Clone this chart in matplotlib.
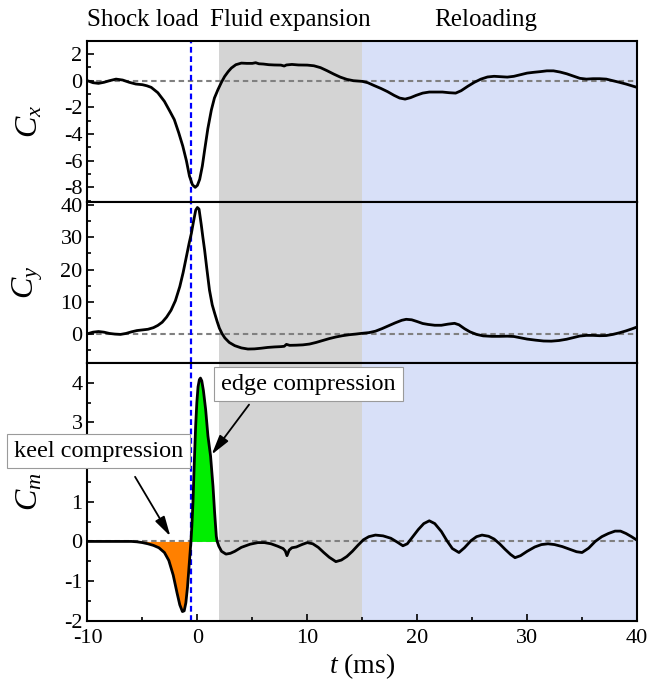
import numpy as np
import matplotlib
matplotlib.use("Agg")
import matplotlib.pyplot as plt
from matplotlib.ticker import MultipleLocator

# ---- data -------------------------------------------------------------
t_cx = [-10.0, -9.5, -9.0, -8.5, -8.0, -7.4, -6.8, -6.2, -5.6, -5.0, -4.6, -4.2,
        -3.6, -3.0, -2.5, -2.1, -1.7, -1.33, -1.0, -0.72, -0.45, -0.2, 0.0, 0.21,
        0.45, 0.66, 0.95, 1.27, 1.55, 1.87, 2.2, 2.48, 2.8, 3.09, 3.5, 4.0, 4.5,
        5.0, 5.3, 5.6, 6.0, 6.5, 7.0, 7.6, 7.9, 8.1, 8.6, 9.2, 10.0, 10.6, 11.2,
        11.8, 12.4, 13.0, 13.6, 14.2, 15.0, 15.5, 16.1, 16.7, 17.3, 17.9, 18.4,
        18.9, 19.4, 19.9, 20.5, 21.1, 21.7, 22.3, 22.9, 23.5, 24.0, 24.6, 25.2,
        25.8, 26.4, 27.0, 27.6, 28.2, 28.8, 29.4, 30.0, 30.6, 31.2, 31.8, 32.4,
        33.0, 33.6, 34.2, 34.8, 35.4, 36.0, 36.6, 37.2, 37.8, 38.4, 39.0, 39.6, 40.0]
cx = [0.0, -0.15, -0.2, -0.12, 0.0, 0.12, 0.05, -0.12, -0.25, -0.3, -0.38, -0.5,
      -0.9, -1.55, -2.3, -2.92, -3.9, -4.9, -6.0, -7.16, -7.8, -8.0, -7.85, -7.4,
      -6.4, -5.2, -3.6, -2.2, -1.3, -0.67, -0.1, 0.32, 0.68, 0.95, 1.2, 1.32, 1.3,
      1.3, 1.35, 1.27, 1.25, 1.2, 1.18, 1.17, 1.1, 1.18, 1.22, 1.18, 1.17, 1.12, 0.98,
      0.75, 0.5, 0.27, 0.1, 0.0, -0.05, -0.15, -0.37, -0.58, -0.82, -1.1, -1.3,
      -1.38, -1.27, -1.1, -0.93, -0.85, -0.85, -0.85, -0.9, -0.93, -0.75, -0.42, -0.12,
      0.12, 0.28, 0.33, 0.3, 0.27, 0.33, 0.45, 0.57, 0.63, 0.68, 0.74, 0.74,
      0.65, 0.52, 0.35, 0.18, 0.12, 0.15, 0.15, 0.12, 0.0, -0.12, -0.25, -0.4, -0.5]

t_cy = [-10.0, -9.5, -9.0, -8.5, -8.0, -7.5, -7.0, -6.5, -6.0, -5.5, -5.0, -4.5,
        -4.0, -3.6, -3.2, -2.8, -2.4, -2.0, -1.6, -1.3, -1.0, -0.75, -0.55, -0.35,
        -0.15, 0.0, 0.15, 0.35, 0.5, 0.66, 0.85, 1.1, 1.35, 1.57, 1.8, 2.0, 2.25,
        2.5, 2.9, 3.4, 4.0, 4.6, 5.2, 5.8, 6.4, 7.0, 7.6, 7.9, 8.1, 8.4, 9.0, 9.6,
        10.2, 10.8, 11.4, 12.0, 12.6, 13.2, 13.8, 14.4, 15.0, 15.6, 16.2, 16.8,
        17.4, 18.0, 18.6, 19.0, 19.5, 20.0, 20.5, 21.0, 21.6, 22.2, 22.8, 23.4,
        23.8, 24.3, 24.8, 25.4, 26.0, 26.8, 27.5, 28.2, 28.8, 29.4, 30.0, 30.8,
        31.5, 32.2, 32.9, 33.6, 34.2, 34.8, 35.4, 36.0, 36.6, 37.2, 37.8, 38.4,
        39.0, 39.6, 40.0]
cy = [0.0, 0.5, 0.7, 0.5, 0.1, -0.1, -0.2, 0.1, 0.6, 1.0, 1.2, 1.4,
      1.9, 2.6, 3.6, 5.2, 7.3, 10.3, 14.7, 19.0, 24.0, 28.2, 31.2, 35.0,
      38.5, 39.3, 38.8, 34.0, 30.0, 26.0, 20.5, 13.6, 9.0, 6.4, 3.8, 1.75, 0.0,
      -1.3, -2.7, -3.7, -4.4, -4.75, -4.7, -4.5, -4.25, -4.1, -4.0, -3.9, -3.3, -3.6, -3.55, -3.45,
      -3.2, -2.7, -2.1, -1.5, -1.0, -0.6, -0.3, -0.1, 0.15, 0.35, 0.8, 1.6,
      2.5, 3.4, 4.2, 4.5, 4.35, 3.8, 3.2, 2.9, 2.65, 2.65, 3.0, 3.25,
      2.8, 1.6, 0.6, -0.2, -0.65, -0.8, -0.8, -0.75, -0.85, -1.25, -1.65, -2.0,
      -2.25, -2.3, -2.1, -1.7, -1.2, -0.7, -0.5, -0.5, -0.6, -0.55, -0.2, 0.3,
      0.9, 1.6, 2.1]

t_cm = [-10.0, -9.0, -8.0, -7.0, -6.0, -5.5, -5.0, -4.5, -4.0, -3.5, -3.0, -2.6,
        -2.2, -1.85, -1.6, -1.36, -1.2, -1.05, -0.9, -0.75, -0.6, -0.5, -0.4, -0.28,
        -0.16, -0.05, 0.06, 0.18, 0.28, 0.4, 0.55, 0.75, 0.96, 1.2, 1.42, 1.57, 1.72,
        1.8, 1.95, 2.2, 2.6, 3.0, 3.4, 4.0, 4.8, 5.5, 6.1, 6.7, 7.3, 7.8, 8.0, 8.15,
        8.35, 8.6, 9.0, 9.5, 10.0, 10.5, 11.0, 11.5, 12.0, 12.6, 13.1, 13.6, 14.1,
        14.6, 15.1, 15.6, 16.2, 16.9, 17.6, 18.2, 18.7, 19.1, 19.6, 20.1, 20.6,
        21.1, 21.6, 22.2, 22.7, 23.2, 23.8, 24.3, 24.9, 25.4, 25.9, 26.5, 27.0,
        27.5, 28.0, 28.5, 28.9, 29.4, 30.0, 30.7, 31.3, 31.9, 32.5, 33.2, 33.9,
        34.5, 35.0, 35.6, 36.2, 36.8, 37.4, 38.0, 38.5, 39.0, 39.5, 40.0]
cm = [0.0, 0.0, 0.0, 0.0, 0.0, -0.01, -0.03, -0.06, -0.1, -0.16, -0.28, -0.48,
      -0.85, -1.3, -1.6, -1.77, -1.75, -1.55, -1.15, -0.6, -0.05, 0.4, 1.0, 2.0,
      2.9, 3.5, 3.9, 4.08, 4.12, 4.05, 3.8, 3.33, 2.66, 2.15, 1.39, 0.72, 0.13,
      0.0, -0.12, -0.25, -0.32, -0.3, -0.25, -0.15, -0.07, -0.03, -0.03, -0.06, -0.12, -0.18, -0.24, -0.36,
      -0.22, -0.16, -0.14, -0.08, -0.03, -0.06, -0.15, -0.28, -0.4, -0.51, -0.47, -0.38, -0.25,
      -0.1, 0.04, 0.12, 0.16, 0.14, 0.08, -0.02, -0.11, -0.06, 0.12, 0.3, 0.45,
      0.52, 0.45, 0.25, 0.02, -0.18, -0.28, -0.16, 0.02, 0.12, 0.16, 0.13, 0.06,
      -0.06, -0.2, -0.33, -0.41, -0.36, -0.25, -0.14, -0.08, -0.06, -0.08, -0.13, -0.2,
      -0.26, -0.28, -0.17, 0.0, 0.12, 0.2, 0.26, 0.26, 0.2, 0.12, 0.03]

phase_names = ["Shock load", "Fluid expansion", "Reloading"]
phase_x = [-5.0, 8.5, 26.2]
expansion_span = (2.0, 15.0)
reload_span = (15.0, 40.0)
impact_time = -0.55

# ---- style ------------------------------------------------------------
plt.rcParams["font.family"] = ["Liberation Serif", "DejaVu Serif"]
plt.rcParams["mathtext.fontset"] = "custom"
plt.rcParams["mathtext.rm"] = "Liberation Serif"
plt.rcParams["mathtext.it"] = "Liberation Serif:italic"
plt.rcParams["axes.unicode_minus"] = False

TICK_FS = 16
YLABEL_FS = 23
XLABEL_FS = 20
TITLE_FS = 18
NOTE_FS = 17.5

fig = plt.figure(figsize=(6.49, 6.83), dpi=100)
left, width = 0.1348, 0.8467
ax_cx = fig.add_axes([left, 0.7042, width, 0.2362])
ax_cy = fig.add_axes([left, 0.4685, width, 0.2357], sharex=ax_cx)
ax_cm = fig.add_axes([left, 0.0912, width, 0.3773], sharex=ax_cx)

panels = [
    (ax_cx, t_cx, cx, (-9.1, 3.0), 2, 1, r"$C_x$"),
    (ax_cy, t_cy, cy, (-9.1, 41.0), 10, 5, r"$C_y$"),
    (ax_cm, t_cm, cm, (-2.0, 4.5), 1, 0.5, r"$C_m$"),
]

for ax, t, y, ylim, major, minor, label in panels:
    ax.axvspan(*expansion_span, color="#d4d4d4", lw=0, zorder=0)
    ax.axvspan(*reload_span, color="#d8e0f8", lw=0, zorder=0)
    ax.axhline(0, color="#808080", lw=1.5, ls=(0, (2.6, 1.8)), zorder=1)
    ax.axvline(impact_time, color="#0000ff", lw=1.6, ls=(0, (2.6, 1.6)), zorder=2)
    ax.plot(t, y, color="black", lw=2.0, zorder=4, solid_joinstyle="round")
    ax.set_ylim(*ylim)
    ax.yaxis.set_major_locator(MultipleLocator(major))
    ax.yaxis.set_minor_locator(MultipleLocator(minor))
    ax.set_ylabel(label, fontsize=YLABEL_FS)
    ax.yaxis.set_label_coords(-0.078, 0.5)
    ax.tick_params(axis="y", which="both", direction="in", labelsize=TICK_FS,
                   width=1.2, right=False)
    ax.tick_params(axis="y", which="major", length=5)
    ax.tick_params(axis="y", which="minor", length=3)
    for sp in ax.spines.values():
        sp.set_linewidth(1.5)

ax_cx.set_xlim(-10, 40)
ax_cx.xaxis.set_major_locator(MultipleLocator(10))
ax_cx.xaxis.set_minor_locator(MultipleLocator(5))
for ax in (ax_cx, ax_cy):
    ax.tick_params(axis="x", which="both", bottom=False, top=False, labelbottom=False)
ax_cm.tick_params(axis="x", which="both", direction="in", labelsize=TICK_FS,
                  width=1.2, top=False, pad=6)
ax_cm.tick_params(axis="x", which="major", length=5)
ax_cm.tick_params(axis="x", which="minor", length=3)
ax_cm.set_xlabel(r"$t$ (ms)", fontsize=XLABEL_FS, labelpad=2)

# keel / edge compression lobes of the moment coefficient
t_arr = np.asarray(t_cm)
cm_arr = np.asarray(cm)
ax_cm.fill_between(t_arr, cm_arr, 0, where=(cm_arr <= 0) & (t_arr < 0) & (t_arr > -7),
                   interpolate=True, color="#ff8000", lw=0, zorder=3)
ax_cm.fill_between(t_arr, cm_arr, 0, where=(cm_arr >= 0) & (t_arr > -1.5) & (t_arr < 2.5),
                   interpolate=True, color="#00ee00", lw=0, zorder=3)

box = dict(boxstyle="square,pad=0.28", fc="white", ec="#9a9a9a", lw=0.8)
arrow = dict(arrowstyle="-|>,head_length=0.6,head_width=0.16", color="black",
             lw=1.3, mutation_scale=20, shrinkA=0, shrinkB=0)
ax_cm.text(10.1, 3.97, "edge compression", fontsize=NOTE_FS, ha="center", va="center",
           bbox=box, zorder=6, clip_on=False)
ax_cm.text(-9.0, 2.28, "keel compression", fontsize=NOTE_FS, ha="center", va="center",
           bbox=box, zorder=6, clip_on=False)
ax_cm.annotate("", xy=(1.3, 2.19), xytext=(4.7, 3.45), arrowprops=arrow, zorder=6)
ax_cm.annotate("", xy=(-2.46, 0.13), xytext=(-5.67, 1.63), arrowprops=arrow, zorder=6)

# phase titles above the top panel
for name, xp in zip(phase_names, phase_x):
    ax_cx.text(xp, 1.091, name, transform=ax_cx.get_xaxis_transform(),
               fontsize=TITLE_FS, ha="center", va="baseline")

fig.savefig("out.png", dpi=100)
